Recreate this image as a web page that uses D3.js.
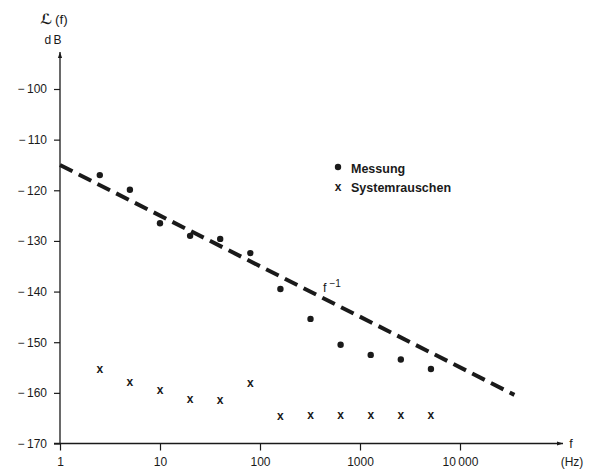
<!DOCTYPE html>
<html>
<head>
<meta charset="utf-8">
<script src="https://cdn.jsdelivr.net/npm/d3@7"></script>
<style>
  html, body { margin: 0; padding: 0; background: #fff; }
  svg { display: block; }
  text { font-family: "Liberation Sans", Arial, Helvetica, sans-serif; fill: #1a1a1a; }
</style>
</head>
<body>
<svg id="chart" width="589" height="470"></svg>
<script>
// ---- data ----
const frequencies = [2.5, 5, 10, 20, 40, 80, 160, 320, 640, 1280, 2560, 5120];
const messung = [-117.0, -119.9, -126.5, -129.0, -129.6, -132.4, -139.5, -145.4, -150.5, -152.5, -153.4, -155.3];
const systemrauschen = [-155.3, -157.9, -159.6, -161.4, -161.5, -158.1, -164.6, -164.5, -164.5, -164.5, -164.5, -164.5];
const fitFreq = [1, 35000];
const fitLevel = [-115, -160.4];
const xTicks = [1, 10, 100, 1000, 10000];
const xTickLabels = ["1", "10", "100", "1000", "10\u2009000"];
const yTicks = [-170, -160, -150, -140, -130, -120, -110, -100];
const legendLabels = ["Messung", "Systemrauschen"];

// ---- scales ----
const svg = d3.select("#chart");
const x = d3.scaleLog().domain([1, 10000]).range([60, 460]);
const y = d3.scaleLinear().domain([-170, -100]).range([443.5, 89]);
const ink = "#1a1a1a";

// arrow markers
const defs = svg.append("defs");
defs.append("marker").attr("id", "arrow").attr("viewBox", "0 0 10 10")
  .attr("refX", 10).attr("refY", 5).attr("markerWidth", 12).attr("markerHeight", 6)
  .attr("markerUnits", "userSpaceOnUse").attr("orient", "auto")
  .append("path").attr("d", "M0,1.5 L10,5 L0,8.5 Z").attr("fill", ink);

// ---- axes ----
const yAxis = d3.axisLeft(y).tickValues(yTicks).tickSize(6).tickPadding(7)
  .tickFormat(d => "\u2212\u2009" + Math.abs(d));
const gy = svg.append("g").attr("transform", "translate(60,0)").call(yAxis);
gy.select(".domain").remove();
gy.selectAll(".tick line").attr("stroke", ink).attr("stroke-width", 1.2);
gy.selectAll(".tick text").attr("font-size", 12).attr("fill", ink)
  .style("font-family", "'Liberation Sans', Arial, sans-serif");

const xAxis = d3.axisBottom(x).tickValues(xTicks).tickSize(7).tickPadding(7)
  .tickFormat((d, i) => xTickLabels[i]);
const gx = svg.append("g").attr("transform", "translate(0,443.5)").call(xAxis);
gx.select(".domain").remove();
gx.selectAll(".tick line").attr("stroke", ink).attr("stroke-width", 1.2);
gx.selectAll(".tick text").attr("font-size", 12).attr("fill", ink)
  .style("font-family", "'Liberation Sans', Arial, sans-serif");

// axis lines with arrows
svg.append("line").attr("x1", 54).attr("y1", y(-170)).attr("x2", 563).attr("y2", y(-170))
  .attr("stroke", ink).attr("stroke-width", 1.3).attr("marker-end", "url(#arrow)");
svg.append("line").attr("x1", 60).attr("y1", y(-170)).attr("x2", 60).attr("y2", 52)
  .attr("stroke", ink).attr("stroke-width", 1.3).attr("marker-end", "url(#arrow)");

// axis titles
svg.append("text").attr("x", 40).attr("y", 24).attr("font-size", 14).attr("font-weight", "bold")
  .style("font-family", "'DejaVu Sans', sans-serif").text("\u2112");
svg.append("text").attr("x", 55).attr("y", 24).style("font-size", "13.5px").text("(f)");
svg.append("text").attr("x", 53).attr("y", 44).attr("text-anchor", "middle")
  .attr("font-size", 12).text("d\u2009B");
svg.append("text").attr("x", 571).attr("y", 447.5).attr("text-anchor", "middle")
  .attr("font-size", 12.5).text("f");
svg.append("text").attr("x", 572).attr("y", 466).attr("text-anchor", "middle")
  .attr("font-size", 12).text("(Hz)");

// ---- fit line f^-1 ----
const fitData = fitFreq.map((f, i) => ({ f, v: fitLevel[i] }));
svg.append("path").datum(fitData)
  .attr("d", d3.line().x(d => x(d.f)).y(d => y(d.v)))
  .attr("fill", "none").attr("stroke", ink).attr("stroke-width", 4)
  .attr("stroke-dasharray", "14,7");

const fl = svg.append("text").attr("x", 323).attr("y", 292).attr("font-size", 12.5);
fl.append("tspan").text("f");
fl.append("tspan").attr("dx", 3).attr("dy", -5).attr("font-size", 10).text("\u22121");

// ---- data marks ----
const mData = frequencies.map((f, i) => ({ f, v: messung[i] }));
const sData = frequencies.map((f, i) => ({ f, v: systemrauschen[i] }));

svg.append("g").selectAll("circle").data(mData).join("circle")
  .attr("cx", d => x(d.f)).attr("cy", d => y(d.v)).attr("r", 3.2).attr("fill", ink);

svg.append("g").selectAll("text").data(sData).join("text")
  .attr("x", d => x(d.f)).attr("y", d => y(d.v)).attr("dy", 3.5)
  .attr("text-anchor", "middle").attr("font-size", 12).attr("font-weight", "bold")
  .text("x");

// ---- legend ----
const lg = svg.append("g");
lg.append("circle").attr("cx", 338).attr("cy", 167).attr("r", 3.2).attr("fill", ink);
lg.append("text").attr("x", 338).attr("y", 187).attr("dy", 3.5).attr("text-anchor", "middle")
  .attr("font-size", 12).attr("font-weight", "bold").text("x");
lg.selectAll("text.lab").data(legendLabels).join("text").attr("class", "lab")
  .attr("x", 351).attr("y", (d, i) => 173 + i * 19)
  .attr("font-size", 12.5).attr("font-weight", "bold").text(d => d);
</script>
</body>
</html>
